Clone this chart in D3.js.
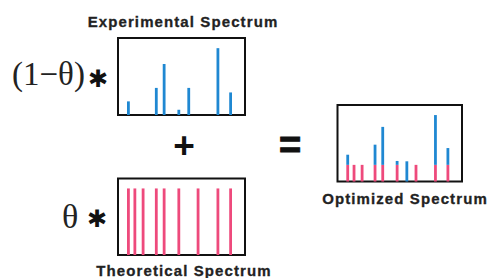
<!DOCTYPE html>
<html>
<head>
<meta charset="utf-8">
<script src="https://cdn.jsdelivr.net/npm/d3@7"></script>
<style>
  body { margin: 0; background: #fff; }
  svg { display: block; }
</style>
</head>
<body>
<div id="container"></div>
<script>
// peak positions (arbitrary m/z units across the box) and intensities (% of box height)
var expPos = [10.5, 38.6, 46.5, 61.3, 71.3, 100.7, 113.5];
var expInt = [17.7, 35.2, 66.2, 6.8, 35.2, 86.8, 29.3];
var theoPos = [10.5, 17, 25.3, 38.6, 46.5, 61.3, 80.7, 100.7, 113.5];
var theoInt = [87, 87, 87, 87, 87, 87, 87, 87, 87];
var theta = 0.25;
var titles = ["Experimental Spectrum", "Theoretical Spectrum", "Optimized Spectrum"];

var blue = "#1f88d2", pink = "#ee4a7c";

var svg = d3.select('#container')
    .append('svg')
    .attr('width', 490)
    .attr('height', 278);

// a panel: framed box with its own scales
function panel(x, y, w, h) {
    var g = svg.append("g").attr("transform", "translate(" + x + "," + y + ")");
    g.append("rect")
        .attr("x", 0).attr("y", 0)
        .attr("width", w).attr("height", h)
        .attr("fill", "none")
        .attr("stroke", "#111")
        .attr("stroke-width", 2);
    var xs = d3.scaleLinear().domain([0, 128]).range([0, w]);
    var ys = d3.scaleLinear().domain([0, 100]).range([h, 0]);
    return { g: g, x: xs, y: ys };
}

function sticks(p, pos, lo, hi, color) {
    p.g.selectAll(null)
        .data(pos.map(function (d, i) { return { x: d, lo: lo[i], hi: hi[i] }; }))
        .enter().append("line")
        .attr("x1", function (d) { return p.x(d.x); })
        .attr("x2", function (d) { return p.x(d.x); })
        .attr("y1", function (d) { return p.y(d.lo); })
        .attr("y2", function (d) { return p.y(d.hi); })
        .attr("stroke", color)
        .attr("stroke-width", 2.8);
}

// experimental
var pe = panel(118, 38, 127, 77);
sticks(pe, expPos, expPos.map(function () { return 0; }), expInt, blue);

// theoretical
var pt = panel(118, 178.5, 127, 76.5);
sticks(pt, theoPos, theoPos.map(function () { return 0; }), theoInt, pink);

// optimized: theta*theoretical (pink) with (1-theta)*experimental stacked on top
var po = panel(337.5, 105, 124.5, 76.5);
var theoScaled = theoInt.map(function (v) { return v * theta; });
sticks(po, theoPos, theoPos.map(function () { return 0; }), theoScaled, pink);
var expBase = expPos.map(function (p) {
    var j = theoPos.indexOf(p);
    return j >= 0 ? theoScaled[j] : 0;
});
sticks(po, expPos, expBase, expInt.map(function (v, i) { return expBase[i] + v * (1 - theta); }), blue);

// titles
function title(txt, x, y) {
    svg.append("text")
        .attr("x", x).attr("y", y)
        .attr("text-anchor", "middle")
        .attr("font-family", "Liberation Sans, Arial, sans-serif")
        .attr("font-weight", "bold")
        .attr("font-size", 15)
        .attr("letter-spacing", 1.1)
        .attr("fill", "#222")
        .attr("stroke", "#222")
        .attr("stroke-width", 0.3)
        .text(txt);
}
title(titles[0], 183, 27);
title(titles[1], 184, 276);
title(titles[2], 405, 204);

// formula pieces
svg.append("text")
    .attr("x", 12).attr("y", 85)
    .attr("font-family", "Liberation Serif, Times New Roman, serif")
    .attr("font-size", 33)
    .attr("fill", "#222")
    .text("(1\u2212\u03B8)");
svg.append("text")
    .attr("x", 62).attr("y", 228)
    .attr("font-family", "Liberation Serif, Times New Roman, serif")
    .attr("font-size", 34)
    .attr("fill", "#222")
    .text("\u03B8");

function star(x, y) {
    svg.append("text")
        .attr("x", x).attr("y", y)
        .attr("text-anchor", "middle")
        .attr("font-family", "DejaVu Sans, sans-serif")
        .attr("font-weight", "bold")
        .attr("font-size", 24)
        .attr("fill", "#111")
        .text("\u2731");
}
star(98, 87);
star(97, 227);

svg.append("text")
    .attr("x", 184).attr("y", 158)
    .attr("text-anchor", "middle")
    .attr("font-family", "Liberation Sans, Arial, sans-serif")
    .attr("font-weight", "bold")
    .attr("font-size", 37)
    .attr("fill", "#111")
    .text("+");
svg.append("text")
    .attr("x", 290).attr("y", 158)
    .attr("text-anchor", "middle")
    .attr("font-family", "Liberation Sans, Arial, sans-serif")
    .attr("font-weight", "bold")
    .attr("font-size", 38)
    .attr("fill", "#111")
    .attr("stroke", "#111")
    .attr("stroke-width", 1)
    .text("=");
</script>
</body>
</html>
